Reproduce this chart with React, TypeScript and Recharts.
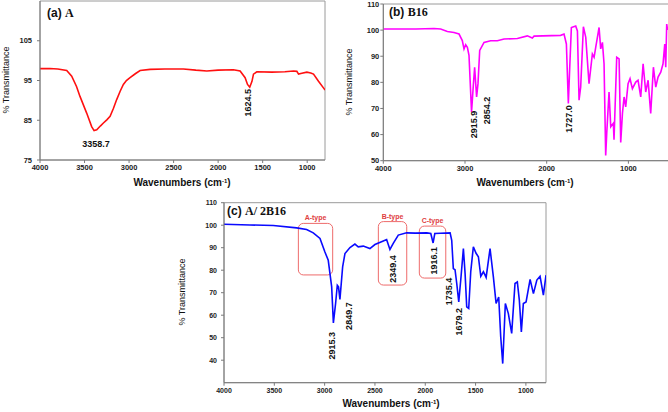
import React from 'react';
import { LineChart, Line, XAxis, YAxis, ReferenceDot, ReferenceArea } from 'recharts';

// FTIR spectra: [wavenumber (cm-1), % transmittance]
const spectrumA: [number, number][] = [
  [4000, 98.0], [3890, 98.0], [3800, 97.9], [3700, 97.5], [3644, 96.1], [3590, 93.5],
  [3551, 91.0], [3476, 86.8], [3420, 83.4], [3393, 82.4], [3363, 82.6], [3320, 83.6],
  [3288, 84.3], [3250, 85.1], [3213, 86.0], [3175, 88.0], [3139, 90.2], [3100, 92.3],
  [3064, 94.0], [3030, 95.0], [2989, 95.7], [2930, 96.7], [2876, 97.5], [2764, 97.8],
  [2600, 97.9], [2390, 97.9], [2250, 97.6], [2127, 97.4], [2000, 97.6], [1828, 97.7],
  [1753, 97.4], [1697, 95.7], [1670, 94.0], [1645, 93.3], [1620, 94.8], [1603, 96.6],
  [1565, 97.2], [1400, 97.1], [1250, 97.2], [1153, 97.4], [1116, 97.3], [1097, 96.6],
  [1060, 96.8], [1003, 97.1], [960, 96.9], [929, 96.6], [873, 94.8], [809, 92.9], [800, 92.6],
];

const spectrumB: [number, number][] = [
  [4000, 100.4], [3600, 100.4], [3380, 100.6], [3298, 100.4], [3216, 99.5], [3135, 99.1],
  [3073, 98.5], [3033, 96.0], [3012, 92.8], [2992, 94.4], [2971, 93.4], [2951, 90.3],
  [2920, 68.7], [2898, 78.9], [2882, 85.8], [2858, 74.4], [2841, 79.5], [2820, 92.2],
  [2767, 95.3], [2686, 95.9], [2604, 95.9], [2522, 96.6], [2359, 96.8], [2237, 97.8],
  [2176, 97.0], [2155, 97.7], [1829, 98.0], [1788, 98.5], [1759, 94.7], [1735, 71.9],
  [1718, 85.8], [1698, 101.0], [1645, 101.6], [1624, 99.7], [1604, 73.2], [1584, 78.2],
  [1551, 101.3], [1522, 97.2], [1482, 79.5], [1441, 90.9], [1420, 89.6], [1400, 93.4],
  [1359, 101.0], [1339, 92.8], [1318, 95.3], [1298, 87.1], [1278, 52.0], [1265, 60.5],
  [1237, 76.3], [1216, 63.0], [1184, 64.3], [1176, 58.0], [1143, 89.6], [1114, 89.0],
  [1094, 57.0], [1073, 68.1], [1053, 74.4], [1033, 70.6], [1004, 79.5], [980, 81.4],
  [951, 77.6], [910, 80.1], [882, 80.8], [849, 74.4], [820, 87.1], [788, 76.3],
  [759, 80.8], [727, 68.1], [694, 85.8], [665, 78.2], [637, 82.0], [604, 83.9],
  [576, 87.1], [555, 94.7], [543, 85.8], [531, 102.3], [520, 100.0],
];

const spectrumC: [number, number][] = [
  [4000, 100.4], [3742, 100.1], [3510, 99.9], [3278, 98.8], [3179, 98.1], [3113, 96.6],
  [3046, 94.1], [2997, 88.1], [2964, 84.4], [2930, 72.6], [2913, 56.6], [2891, 65.2],
  [2874, 73.3], [2862, 72.6], [2848, 67.0], [2821, 81.5], [2798, 87.4], [2748, 90.1],
  [2699, 91.6], [2666, 90.4], [2616, 90.7], [2550, 89.6], [2500, 91.4], [2417, 93.0],
  [2384, 93.6], [2351, 89.2], [2318, 91.9], [2268, 95.6], [2185, 96.6], [2100, 96.5],
  [1985, 96.6], [1945, 96.3], [1922, 92.1], [1905, 96.3], [1850, 96.4], [1753, 96.6],
  [1737, 93.3], [1721, 80.7], [1704, 80.2], [1687, 74.1], [1667, 65.9], [1644, 77.3],
  [1621, 89.6], [1604, 78.5], [1588, 63.7], [1568, 63.0], [1548, 79.3], [1522, 90.4],
  [1495, 87.5], [1472, 86.0], [1448, 77.3], [1422, 79.3], [1395, 76.8], [1356, 89.6],
  [1323, 77.0], [1296, 65.2], [1270, 68.1], [1250, 50.4], [1230, 38.5], [1204, 65.2],
  [1174, 60.7], [1141, 51.9], [1108, 74.1], [1085, 74.8], [1065, 66.7], [1045, 52.6],
  [1025, 65.2], [998, 65.9], [958, 75.9], [925, 69.6], [891, 75.6], [859, 77.3],
  [826, 68.9], [800, 77.8],
];

const ticksAX = [4000, 3500, 3000, 2500, 2000, 1500, 1000];
const ticksAY = [75, 85, 95, 105];
const ticksBX = [4000, 3000, 2000, 1000];
const ticksBY = [50, 60, 70, 80, 90, 100, 110];
const ticksCX = [4000, 3500, 3000, 2500, 2000, 1500, 1000];
const ticksCY = [40, 50, 60, 70, 80, 90, 100, 110];

// peak annotations: text, wavenumber and transmittance at the label centre
const peaksA = [
  { text: '3358.7', wn: 3371, t: 79.0, vertical: false },
  { text: '1624.5', wn: 1671, t: 89.4, vertical: true },
];
const peaksB = [
  { text: '2915.9', wn: 2890, t: 63.9, vertical: true },
  { text: '2854.2', wn: 2727, t: 69.2, vertical: true },
  { text: '1727.0', wn: 1727, t: 66.0, vertical: true },
];
const peaksC = [
  { text: '2915.3', wn: 2929, t: 46.4, vertical: true },
  { text: '2849.7', wn: 2764, t: 59.6, vertical: true },
  { text: '2349.4', wn: 2323, t: 80.5, vertical: true },
  { text: '1916.1', wn: 1919, t: 84.2, vertical: true },
  { text: '1735.4', wn: 1770, t: 70.5, vertical: true },
  { text: '1679.2', wn: 1671, t: 57.1, vertical: true },
];

// highlighted regions in panel (c)
const regionsC = [
  { name: 'A-type', from: 3261, to: 2920, low: 77.9, high: 100.8 },
  { name: 'B-type', from: 2466, to: 2184, low: 73.4, high: 101.6 },
  { name: 'C-type', from: 2059, to: 1796, low: 76.5, high: 99.6 },
];

const font = '"Liberation Sans", Arial, sans-serif';
const serif = '"Liberation Serif", "Times New Roman", serif';
const axisColor = '#7a7a7a';

const toRows = (s: [number, number][]) => s.map(([wn, t]) => ({ wn, t }));

type PanelProps = {
  left: number;
  top: number;
  width: number;
  height: number;
  margin: { top: number; right: number; bottom: number; left: number };
  spectrum: [number, number][];
  color: string;
  xDomain: [number, number];
  yDomain: [number, number];
  xTicks: number[];
  yTicks: number[];
  tickFont: number;
  yTickGap: number;
  peaks: { text: string; wn: number; t: number; vertical: boolean }[];
  regions?: { name: string; from: number; to: number; low: number; high: number }[];
};

const Panel = (p: PanelProps) => (
  <div style={{ position: 'absolute', left: p.left, top: p.top }}>
    <LineChart width={p.width} height={p.height} data={toRows(p.spectrum)} margin={p.margin}>
      <XAxis
        dataKey="wn"
        type="number"
        domain={p.xDomain}
        reversed
        allowDataOverflow
        ticks={p.xTicks}
        interval={0}
        height={28}
        stroke={axisColor}
        tickSize={3}
        tickMargin={2}
        tick={{ fill: '#222', fontSize: p.tickFont, fontWeight: 'bold', fontFamily: font }}
      />
      <YAxis
        type="number"
        domain={p.yDomain}
        allowDataOverflow
        ticks={p.yTicks}
        interval={0}
        width={30}
        stroke={axisColor}
        tickSize={3}
        tickMargin={p.yTickGap}
        tick={{ fill: '#222', fontSize: p.tickFont, fontWeight: 'bold', fontFamily: font }}
      />
      <ReferenceArea
        x1={p.xDomain[0]}
        x2={p.xDomain[1]}
        y1={p.yDomain[0]}
        y2={p.yDomain[1]}
        fill="none"
        stroke="#9a9a9a"
        strokeWidth={1}
        ifOverflow="visible"
      />
      {(p.regions || []).map((r) => (
        <ReferenceArea
          key={r.name}
          x1={r.from}
          x2={r.to}
          y1={r.low}
          y2={r.high}
          fill="none"
          stroke="#ee6b6b"
          strokeWidth={1}
          radius={5}
          ifOverflow="visible"
          label={{ value: r.name, position: 'top', offset: 3, fill: '#e0403f', fontSize: 7, fontWeight: 'bold', fontFamily: font }}
        />
      ))}
      <Line
        type="linear"
        dataKey="t"
        stroke={p.color}
        strokeWidth={1.6}
        dot={false}
        isAnimationActive={false}
      />
      {p.peaks.map((pk) => (
        <ReferenceDot
          key={pk.text}
          x={pk.wn}
          y={pk.t}
          r={0}
          fill="none"
          stroke="none"
          ifOverflow="visible"
          label={{
            value: pk.text,
            position: 'center',
            angle: pk.vertical ? -90 : 0,
            fill: '#111',
            fontSize: 9,
            fontWeight: 'bold',
            fontFamily: font,
          }}
        />
      ))}
    </LineChart>
  </div>
);

const abs = (x: number, y: number, extra: React.CSSProperties = {}): React.CSSProperties => ({
  position: 'absolute',
  left: x,
  top: y,
  whiteSpace: 'nowrap',
  fontFamily: font,
  color: '#111',
  lineHeight: 1,
  ...extra,
});

const XTitle = ({ x, y }: { x: number; y: number }) => (
  <div style={abs(x, y, { transform: 'translate(-50%, -50%)', fontSize: 10, fontWeight: 'bold' })}>
    Wavenumbers (cm<sup style={{ fontSize: 6, verticalAlign: 'top' }}>-1</sup>)
  </div>
);

const YTitle = ({ x, y }: { x: number; y: number }) => (
  <div style={abs(x, y, { transform: 'translate(-50%, -50%) rotate(-90deg)', fontSize: 9 })}>
    % Transmittance
  </div>
);

const PanelTitle = ({ x, y, tag, name }: { x: number; y: number; tag: string; name: string }) => (
  <div style={abs(x, y, { transform: 'translateY(-50%)', fontSize: 12, fontWeight: 'bold' })}>
    {tag} <span style={{ fontFamily: serif }}>{name}</span>
  </div>
);

export default function App() {
  return (
    <div
      style={{
        position: 'absolute',
        left: 0,
        top: 0,
        width: 668,
        height: 412,
        overflow: 'hidden',
        background: '#fff',
      }}
    >
      <Panel
        left={0}
        top={0}
        width={334}
        height={200}
        margin={{ top: 1, right: 9, left: 10, bottom: 12 }}
        spectrum={spectrumA}
        color="#ff1010"
        xDomain={[800, 4000]}
        yDomain={[75, 115]}
        xTicks={ticksAX}
        yTicks={ticksAY}
        tickFont={7.5}
        yTickGap={5}
        peaks={peaksA}
      />
      <Panel
        left={334}
        top={0}
        width={337}
        height={200}
        margin={{ top: 4, right: 1.75, left: 19.3, bottom: 11.3 }}
        spectrum={spectrumB}
        color="#ff00ff"
        xDomain={[500, 4000]}
        yDomain={[50, 110]}
        xTicks={ticksBX}
        yTicks={ticksBY}
        tickFont={7.5}
        yTickGap={1}
        peaks={peaksB}
      />
      <Panel
        left={150}
        top={190}
        width={400}
        height={222}
        margin={{ top: 12.7, right: 4, left: 44, bottom: 1.3 }}
        spectrum={spectrumC}
        color="#0a0aff"
        xDomain={[800, 4000]}
        yDomain={[30, 110]}
        xTicks={ticksCX}
        yTicks={ticksCY}
        tickFont={7}
        yTickGap={4}
        peaks={peaksC}
        regions={regionsC}
      />

      <PanelTitle x={47} y={12.7} tag="(a)" name="A" />
      <PanelTitle x={389} y={11.5} tag="(b)" name="B16" />
      <PanelTitle x={227} y={210.5} tag="(c)" name="A/ 2B16" />

      <YTitle x={6} y={80} />
      <YTitle x={349} y={81.7} />
      <YTitle x={182} y={292} />

      <XTitle x={182} y={183} />
      <XTitle x={525} y={183} />
      <XTitle x={391} y={404} />
    </div>
  );
}
